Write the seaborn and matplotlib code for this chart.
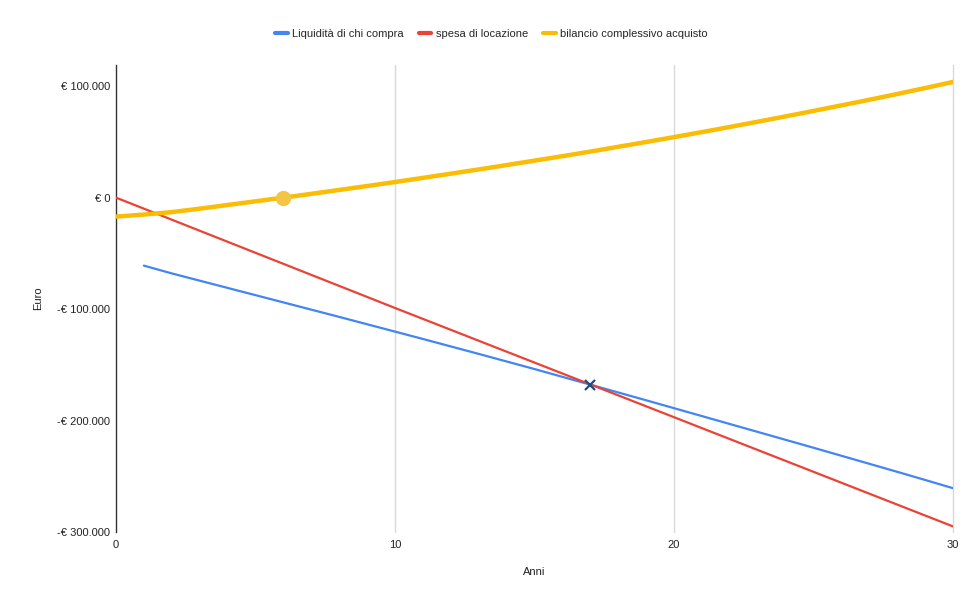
import numpy as np
import pandas as pd
import matplotlib
matplotlib.use('Agg')
import matplotlib.pyplot as plt
from matplotlib.lines import Line2D
from matplotlib.ticker import FuncFormatter
import seaborn as sns

# valori (euro per anno)
anni = list(range(0, 31))
bilancio_acquisto = [-17000, -15200, -13000, -9900, -6600, -3300, 0, 3400, 6900, 10400,
                     14000, 17700, 21500, 25300, 29200, 33200, 37200, 41300, 45600, 49900,
                     54300, 58800, 63400, 68100, 72900, 77800, 82800, 87800, 93000, 98300,
                     103800]
spesa_locazione = [0, -9900, -19800, -29700, -39600, -49500, -59400, -69300, -79200, -89100,
                   -99000, -108800, -118600, -128400, -138200, -148000, -157800, -167600,
                   -177400, -187200, -197000, -206800, -216600, -226400, -236200, -246000,
                   -255800, -265600, -275400, -285200, -295000]
anni_liquidita = list(range(1, 31))
liquidita = [-61000, -68000, -74500, -81000, -87500, -94000, -100500, -107000, -113600,
             -120200, -126800, -133500, -140200, -147000, -153800, -160800, -167800,
             -174800, -181800, -188900, -196000, -203100, -210200, -217300, -224400,
             -231600, -238800, -246000, -253300, -260700]

anno_pareggio = 6       # bilancio acquisto = 0
anno_incrocio = 17      # liquidita = spesa locazione

labels = ['Liquidità di chi compra', 'spesa di locazione', 'bilancio complessivo acquisto']
colors = ['#4285F4', '#EA4335', '#FBBC04']

sns.set_style('white')
plt.rcParams['font.family'] = ['Liberation Sans', 'DejaVu Sans']

df_liq = pd.DataFrame({'anni': anni_liquidita, 'euro': liquidita})
df_loc = pd.DataFrame({'anni': anni, 'euro': spesa_locazione})
df_bil = pd.DataFrame({'anni': anni, 'euro': bilancio_acquisto})

fig = plt.figure(figsize=(9.79, 6.07), dpi=100)
ax = fig.add_axes([116 / 979, 1 - 532 / 607, (953 - 116) / 979, (532 - 65) / 607])

sns.lineplot(data=df_liq, x='anni', y='euro', ax=ax, color=colors[0], linewidth=1.6, zorder=3)
sns.lineplot(data=df_loc, x='anni', y='euro', ax=ax, color=colors[1], linewidth=1.6, zorder=4)
sns.lineplot(data=df_bil, x='anni', y='euro', ax=ax, color=colors[2], linewidth=3.2, zorder=5)

ax.plot([anno_pareggio], [bilancio_acquisto[anni.index(anno_pareggio)]], 'o',
        color='#F4C542', markersize=10, zorder=6)
ax.plot([anno_incrocio], [liquidita[anni_liquidita.index(anno_incrocio)]], 'x',
        color='#1B4F82', markersize=6.5, mew=1.6, zorder=7)

ax.set_xlim(0, 30)
ax.set_ylim(-300000, 119000)
ax.set_xticks([0, 10, 20, 30])
ax.set_yticks([-300000, -200000, -100000, 0, 100000])


def euro_fmt(v, pos):
    s = f"{abs(int(v)):,}".replace(',', '.')
    return f"-€ {s}" if v < 0 else f"€ {s}"


ax.yaxis.set_major_formatter(FuncFormatter(euro_fmt))
ax.tick_params(axis='both', length=0, labelsize=8, colors='#222222')
ax.tick_params(axis='y', pad=4)
ax.tick_params(axis='x', pad=6)

for x in [10, 20, 30]:
    ax.axvline(x, color='#d9d9d9', linewidth=1, zorder=1, clip_on=False)

for side in ['top', 'right', 'bottom']:
    ax.spines[side].set_visible(False)
ax.spines['left'].set_color('#333333')
ax.spines['left'].set_linewidth(1)

ax.set_xlabel('Anni', fontsize=8, color='#222222', labelpad=12)
ax.set_ylabel('Euro', fontsize=8, color='#222222', labelpad=10)

handles = [Line2D([0], [0], color=c, linewidth=3) for c in colors]
fig.legend(handles, labels, loc='center', bbox_to_anchor=(0.502, 1 - 34 / 607), ncol=3,
           frameon=False, fontsize=8, handlelength=1.15, handletextpad=0.4,
           columnspacing=1.35)

fig.savefig('out.png', dpi=100)
